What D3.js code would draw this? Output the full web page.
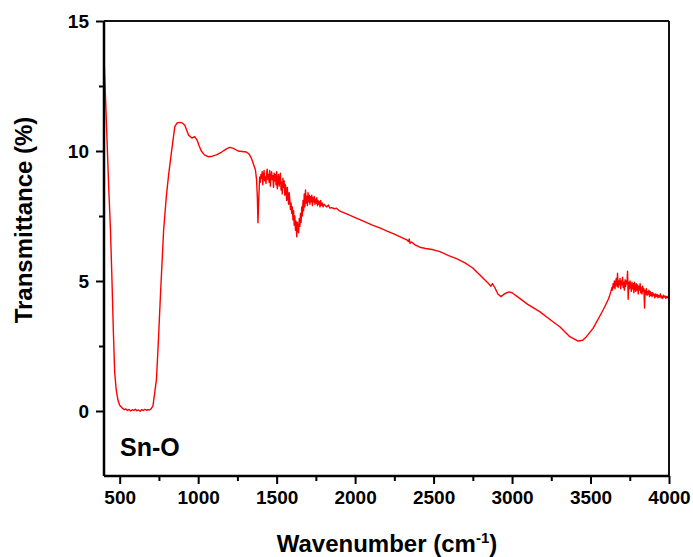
<!DOCTYPE html>
<html>
<head>
<meta charset="utf-8">
<script src="https://cdn.jsdelivr.net/npm/d3@7/dist/d3.min.js"></script>
<style>
  html, body { margin: 0; padding: 0; background: #fff; }
  svg { display: block; font-family: "Liberation Sans", Arial, sans-serif; }
</style>
</head>
<body>
<svg id="chart" width="693" height="557"></svg>
<script>
// ---- data, split in spectral segments ----
// Segment 1: 400 - 1388 cm-1 (Sn-O band and broad hump)
const wn1 = [
  400,410,420,430,441,450,460,468,478,489,500,519,530,540,550,560,570,580,590,600,
  610,620,630,640,650,660,670,680,690,700,712,723,734,745,760,780,797,812,829,851,
  866,882,898,914,927,940,960,978,993,1006,1020,1040,1063,1090,1116,1150,1180,1201,1225,1254,
  1280,1307,1325,1339,1352,1365,1372,1377,1381,1385
];
const t1 = [
  13.65,12.0,10.3,8.6,7.0,5.2,3.0,1.5,0.8,0.42,0.22,0.1,0.05,0.08,0.02,0.06,0.0,0.05,0.02,0.07,
  0.01,0.04,-0.01,0.05,0.02,0.06,0.03,0.05,0.04,0.08,0.2,0.7,1.2,2.5,4.5,6.96,8.24,9.1,9.92,10.94,
  11.08,11.1,11.08,11.0,10.8,10.6,10.5,10.55,10.42,10.2,10.0,9.85,9.78,9.8,9.85,9.96,10.08,10.14,10.1,10.0,
  9.98,9.96,9.88,9.72,9.5,9.27,8.9,8.24,7.24,8.0
];
// Segment 2: 1392 - 1840 cm-1 (noisy water region)
const wn2 = [
  1392,1396,1400,1404,1408,1412,1416,1420,1424,1428,1432,1436,1440,1444,1448,1452,1456,1460,1464,1468,
  1472,1476,1480,1484,1488,1492,1496,1500,1504,1508,1512,1516,1520,1524,1528,1532,1536,1540,1544,1548,
  1552,1556,1560,1564,1568,1572,1576,1580,1584,1588,1592,1596,1600,1604,1608,1612,1616,1620,1624,1628,
  1632,1636,1640,1644,1648,1652,1656,1660,1664,1668,1672,1676,1680,1684,1688,1692,1696,1700,1704,1708,
  1712,1716,1720,1724,1728,1732,1736,1740,1744,1748,1752,1756,1760,1764,1768,1772,1776,1780,1784,1790,
  1796,1802,1810,1820,1830,1840
];
const t2 = [
  9.0,8.8,9.1,8.95,9.2,8.7,9.05,9.25,8.85,9.0,8.75,9.15,9.3,8.9,9.1,8.8,9.25,8.65,9.0,9.2,
  8.9,9.05,8.6,9.15,8.85,9.1,8.7,9.2,8.55,8.95,9.1,8.65,8.9,9.15,8.5,8.8,8.35,8.95,8.6,8.85,
  8.3,8.7,8.45,8.1,8.6,8.25,7.95,8.4,8.1,7.75,8.0,7.6,7.85,7.35,7.7,7.15,7.5,6.95,7.3,6.7,
  7.25,7.0,6.85,7.4,7.1,7.6,7.25,7.85,7.5,8.1,7.7,8.35,7.85,8.5,8.0,8.25,7.9,8.4,8.05,8.3,
  7.95,8.25,8.05,8.3,7.9,8.2,8.05,8.25,7.95,8.15,8.0,8.2,7.9,8.1,7.95,8.05,7.85,8.1,7.9,8.0,
  7.85,7.95,7.9,7.85,7.92,7.8
];
// Segment 3: 1850 - 3636 cm-1 (smooth decline, O-H band minimum)
const wn3 = [
  1850,1870,1881,1900,1950,2008,2060,2110,2157,2200,2250,2305,2330,2340,2345,2350,2360,2380,2412,2450,
  2500,2540,2600,2650,2700,2750,2800,2850,2865,2875,2890,2910,2930,2950,2980,3000,3049,3100,3176,3250,
  3304,3368,3421,3450,3474,3516,3569,3590,3611,3620,3630,3636
];
const t3 = [
  7.82,7.78,7.8,7.7,7.57,7.42,7.28,7.15,7.04,6.93,6.8,6.65,6.58,6.52,6.62,6.45,6.5,6.4,6.3,6.25,
  6.2,6.13,5.97,5.85,5.7,5.5,5.2,4.9,4.8,4.9,4.75,4.5,4.4,4.5,4.58,4.55,4.33,4.1,3.82,3.48,
  3.24,2.86,2.69,2.72,2.86,3.18,3.76,4.0,4.27,4.4,4.6,4.75
];
// Segment 4: 3640 - 4000 cm-1 (noisy plateau)
const wn4 = [
  3640,3644,3648,3652,3656,3660,3664,3668,3672,3676,3680,3684,3688,3692,3696,3700,3704,3708,3712,3716,
  3720,3724,3728,3732,3736,3740,3744,3748,3752,3756,3760,3764,3768,3772,3776,3780,3784,3788,3792,3796,
  3800,3804,3808,3812,3816,3820,3824,3828,3832,3836,3840,3844,3848,3852,3856,3860,3864,3868,3872,3876,
  3880,3884,3888,3892,3896,3900,3905,3910,3915,3920,3925,3930,3935,3940,3945,3950,3955,3960,3965,3970,
  3975,3980,3985,3990,3995,4000
];
const t4 = [
  4.65,4.9,4.75,5.0,4.7,4.95,5.1,4.8,5.3,4.75,5.0,4.85,5.1,4.7,5.0,4.85,5.15,4.75,4.95,4.65,
  5.05,4.8,5.0,4.9,5.38,4.3,4.95,4.7,5.0,4.8,4.6,4.95,4.7,4.9,4.55,4.95,4.75,4.6,4.9,4.65,
  4.85,4.5,4.8,4.65,4.9,4.55,4.75,4.5,4.8,4.6,4.7,3.96,4.65,4.5,4.7,4.45,4.6,4.5,4.65,4.4,
  4.6,4.45,4.55,4.4,4.55,4.45,4.5,4.35,4.5,4.4,4.48,4.35,4.45,4.38,4.5,4.35,4.42,4.33,4.45,4.38,
  4.42,4.33,4.4,4.36,4.42,4.38
];
const xMajorTicks = [500,1000,1500,2000,2500,3000,3500,4000];
const xMinorTicks = [750,1250,1750,2250,2750,3250,3750];
const yMajorTicks = [0,5,10,15];
const yMinorTicks = [2.5,7.5,12.5];
const xDomain = [400, 4000];
const yDomain = [-2.5, 15];
const xTitle = "Wavenumber (cm";
const xTitleSup = "-1";
const yTitle = "Transmittance (%)";
const sampleLabel = "Sn-O";

// ---- layout ----
const L = 104, R = 669, T = 21, B = 476;
const svg = d3.select("#chart");
const x = d3.scaleLinear().domain(xDomain).range([L, R]);
const y = d3.scaleLinear().domain(yDomain).range([B, T]);

const wavenumber = wn1.concat(wn2, wn3, wn4);
const transmittance = t1.concat(t2, t3, t4);
const pts = wavenumber.map((w, i) => [w, transmittance[i]]);

svg.append("defs").append("clipPath").attr("id", "clip")
  .append("rect").attr("x", L).attr("y", T).attr("width", R - L).attr("height", B - T);

svg.append("path")
  .datum(pts)
  .attr("clip-path", "url(#clip)")
  .attr("fill", "none")
  .attr("stroke", "#ff0000")
  .attr("stroke-width", 1.4)
  .attr("stroke-linejoin", "round")
  .attr("d", d3.line().x(d => x(d[0])).y(d => y(d[1])));

// frame top/right
svg.append("line").attr("x1", L).attr("x2", R).attr("y1", T).attr("y2", T)
  .attr("stroke", "#111").attr("stroke-width", 2);
svg.append("line").attr("x1", R).attr("x2", R).attr("y1", T).attr("y2", B)
  .attr("stroke", "#111").attr("stroke-width", 2);

// bottom axis
const gx = svg.append("g").attr("transform", `translate(0,${B})`)
  .call(d3.axisBottom(x).tickValues(xMajorTicks).tickSize(8).tickPadding(7).tickFormat(d3.format("d")));
svg.append("g").attr("transform", `translate(0,${B})`)
  .call(d3.axisBottom(x).tickValues(xMinorTicks).tickSize(5).tickFormat(""))
  .call(g => g.select(".domain").remove());
// left axis
const gy = svg.append("g").attr("transform", `translate(${L},0)`)
  .call(d3.axisLeft(y).tickValues(yMajorTicks).tickSize(8).tickPadding(7).tickFormat(d3.format("d")));
svg.append("g").attr("transform", `translate(${L},0)`)
  .call(d3.axisLeft(y).tickValues(yMinorTicks).tickSize(5).tickFormat(""))
  .call(g => g.select(".domain").remove());

svg.selectAll(".domain").attr("stroke", "#000").attr("stroke-width", 2.5);
svg.selectAll(".tick line").attr("stroke", "#000").attr("stroke-width", 2);
svg.selectAll(".tick text")
  .attr("font-family", "'Liberation Sans', Arial, sans-serif")
  .attr("font-size", 19).attr("font-weight", "bold").attr("fill", "#000");
gx.select(".domain").attr("d", `M${L},0H${R}`);
gy.select(".domain").attr("d", `M0,${T}V${B}`);

// titles
const xt = svg.append("text")
  .attr("x", 387).attr("y", 552)
  .attr("text-anchor", "middle")
  .attr("font-size", 24).attr("font-weight", "bold").attr("fill", "#000");
xt.append("tspan").text(xTitle);
xt.append("tspan").attr("font-size", 15).attr("dy", -9).text(xTitleSup);
xt.append("tspan").attr("dy", 9).text(")");

svg.append("text")
  .attr("transform", `translate(32,220) rotate(-90)`)
  .attr("text-anchor", "middle")
  .attr("font-size", 24).attr("font-weight", "bold").attr("fill", "#000")
  .text(yTitle);

svg.append("text")
  .attr("x", 120).attr("y", 456)
  .attr("font-size", 25).attr("font-weight", "bold").attr("fill", "#000")
  .text(sampleLabel);
</script>
</body>
</html>
